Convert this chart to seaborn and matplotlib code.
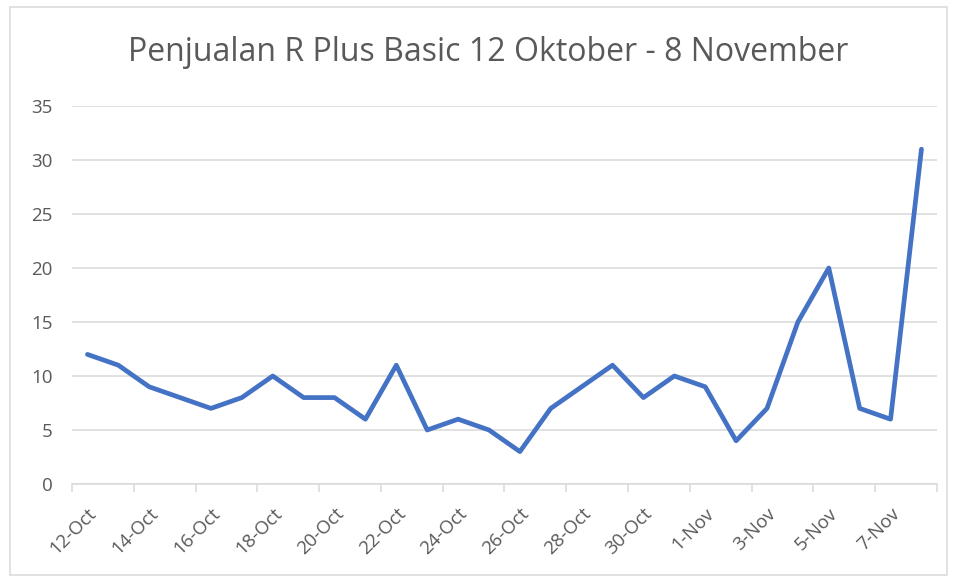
import pandas as pd
import seaborn as sns
import matplotlib.pyplot as plt
from matplotlib.patches import Rectangle

# daily sales, 12 Oct - 8 Nov
dates = ['12-Oct', '13-Oct', '14-Oct', '15-Oct', '16-Oct', '17-Oct', '18-Oct',
         '19-Oct', '20-Oct', '21-Oct', '22-Oct', '23-Oct', '24-Oct', '25-Oct',
         '26-Oct', '27-Oct', '28-Oct', '29-Oct', '30-Oct', '31-Oct', '1-Nov',
         '2-Nov', '3-Nov', '4-Nov', '5-Nov', '6-Nov', '7-Nov', '8-Nov']
sales = [12, 11, 9, 8, 7, 8, 10, 8, 8, 6, 11, 5, 6, 5,
         3, 7, 9, 11, 8, 10, 9, 4, 7, 15, 20, 7, 6, 31]

df = pd.DataFrame({'Tanggal': dates, 'Penjualan': sales})

sns.set_style('white')
plt.rcParams['font.family'] = ['Open Sans', 'DejaVu Sans']

grey_txt = '#595959'
grid_col = '#d9d9d9'

fig = plt.figure(figsize=(9.57, 5.82), dpi=100)
ax = fig.add_axes([0.0752, 0.1684, 0.9038, 0.6495])

sns.lineplot(data=df, x='Tanggal', y='Penjualan', color='#4472C4',
             linewidth=3.4, ax=ax, solid_joinstyle='round', solid_capstyle='round')

ax.set_xlim(-0.5, len(dates) - 0.5)
ax.set_ylim(0, 35)
ax.set_yticks(range(0, 36, 5))
ax.yaxis.grid(True, color=grid_col, linewidth=1.1)
ax.set_axisbelow(True)

# labels on every other day, tick marks on category boundaries
ax.set_xticks(range(0, len(dates), 2))
ax.set_xticklabels(dates[::2], rotation=45, ha='right', rotation_mode='anchor',
                   color=grey_txt, fontsize=13.5)
ax.set_xticks([i - 0.5 for i in range(0, len(dates) + 1, 2)], minor=True)
ax.tick_params(axis='x', which='major', length=0, pad=15)
ax.tick_params(axis='x', which='minor', length=6, width=1.1, color=grid_col,
               direction='out', bottom=True)
ax.tick_params(axis='y', length=0, pad=14, labelcolor=grey_txt, labelsize=13.5)

for side in ['top', 'right', 'left']:
    ax.spines[side].set_visible(False)
ax.spines['bottom'].set_color(grid_col)
ax.spines['bottom'].set_linewidth(1.1)

ax.set_xlabel('')
ax.set_ylabel('')
fig.text(0.51, 0.91, 'Penjualan R Plus Basic 12 Oktober - 8 November',
         ha='center', va='center', fontsize=23, color=grey_txt)

# chart frame
fig.patches.append(Rectangle((0.0105, 0.012), 0.979, 0.976, transform=fig.transFigure,
                             fill=False, edgecolor=grid_col, linewidth=1.1))

fig.savefig('out.png', dpi=100)
